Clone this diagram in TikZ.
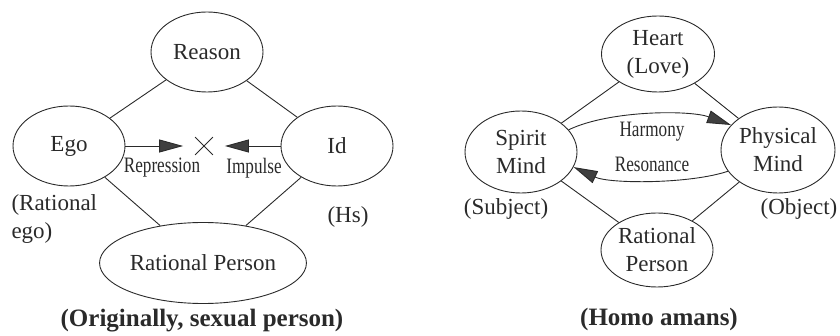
\documentclass[tikz,border=0pt]{standalone}
\usepackage{fontspec}
\setmainfont{Liberation Serif}
\newfontfamily\condfont[FakeStretch=0.78]{Liberation Serif}
\usetikzlibrary{shapes.geometric,shapes.misc,arrows.meta}
\definecolor{ink}{HTML}{2A2A2A}
\begin{document}
\begin{tikzpicture}[x=1pt,y=-1pt,
  every node/.style={font=\fontsize{23}{28}\selectfont, text=ink},
  oval/.style={draw=ink, ellipse, line width=0.9pt, inner sep=0pt, align=center},
  link/.style={draw=ink, line width=0.9pt},
  arr/.style={draw=ink, line width=0.9pt, -{Triangle[length=24pt,width=13pt,fill=ink!90]}},
  small/.style={font=\condfont\fontsize{22}{26}\selectfont},
  side/.style={font=\fontsize{23}{28}\selectfont, align=left},
  caption/.style={font=\bfseries\fontsize{25}{30}\selectfont}]
\useasboundingbox (0,0) rectangle (840,336);
% ---------- left panel ----------
\node[oval, minimum width=112pt, minimum height=80pt] (reason) at (207,52) {Reason};
\node[oval, minimum width=112pt, minimum height=80pt] (ego) at (69,146) {Ego};
\node[oval, minimum width=112pt, minimum height=80pt] (id) at (337,146) {Id};
\node[oval, minimum width=187pt, minimum height=81pt] (rp) at (203,263) {Rational Person};
\draw[link] (reason) -- (ego);
\draw[link] (reason) -- (id);
\draw[link] (ego) -- (rp);
\draw[link] (id) -- (rp);
\node[draw=ink, cross out, line width=0.8pt, minimum size=17pt, inner sep=0pt] (x) at (204,146) {};
\draw[arr, shorten >=12pt] (ego.east) -- (x.west);
\draw[arr, shorten >=12pt] (id.west) -- (x.east);
\node[small] (rep) at (162,168) {Repression};
\node[small] (imp) at (254,168) {Impulse};
\node[side, anchor=west] (rego) at (8,219) {(Rational\\ego)};
\node (hs) at (348,217) {(Hs)};
\node[caption] (cap1) at (202,321) {(Originally, sexual person)};
% ---------- right panel ----------
\node[oval, minimum width=113pt, minimum height=76pt] (heart) at (658,54) {Heart\\(Love)};
\node[oval, minimum width=112pt, minimum height=82pt] (sm) at (521,152) {Spirit\\Mind};
\node[oval, minimum width=114pt, minimum height=86pt] (pm) at (778,150) {Physical\\Mind};
\node[oval, minimum width=112pt, minimum height=74pt] (rp2) at (657,250) {Rational\\Person};
\draw[link] (heart) -- (sm);
\draw[link] (heart) -- (pm);
\draw[link] (sm) -- (rp2);
\draw[link] (pm) -- (rp2);
\draw[arr] (sm.25) .. controls (610,110) and (690,110) .. (pm.152);
\draw[arr] (pm.203) .. controls (690,184) and (610,184) .. (sm.-16);
\node[small] (harm) at (652,132) {Harmony};
\node[small] (reso) at (652,164) {Resonance};
\node (subj) at (506,209) {(Subject)};
\node (obj) at (799,209) {(Object)};
\node[caption] (cap2) at (659,319) {(Homo amans)};
\end{tikzpicture}
\end{document}
